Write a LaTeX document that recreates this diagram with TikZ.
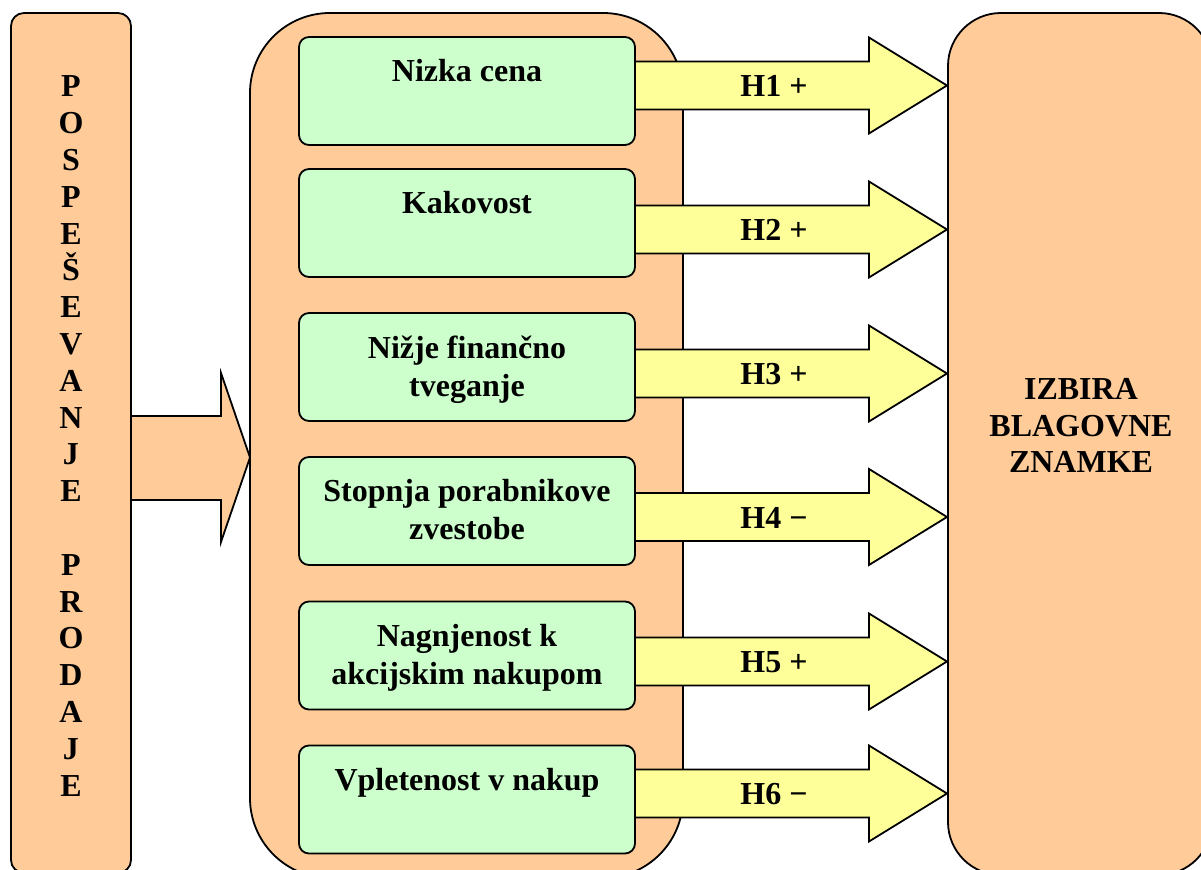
\documentclass[tikz,border=0pt]{standalone}
\usepackage{fontspec}
\setmainfont{Liberation Serif}
\usetikzlibrary{positioning}
\definecolor{peach}{HTML}{FFCC99}
\definecolor{mint}{HTML}{CCFFCC}
\definecolor{lemon}{HTML}{FFFF99}

\begin{document}
\begin{tikzpicture}[x=0.5pt,y=-0.5pt,line width=0.9pt,line join=miter,
  font=\fontsize{16}{18.4}\selectfont\bfseries,
  factor/.style={draw,fill=mint,rounded corners=5pt,minimum width=168pt,minimum height=54pt,inner sep=0pt},
  factortext/.style={align=center,inner sep=0pt,font=\fontsize{16}{19}\selectfont\bfseries},
  hyp/.style={inner sep=0pt},
  bigarrow/.style={draw,fill=lemon}]
\useasboundingbox (0,0) rectangle (1201,870);
\begin{scope}
\clip (0,0) rectangle (1201,870);
\fill[peach] (131,416) -- (221,416) -- (221,373) -- (250,457.5) -- (221,542) -- (221,500) -- (131,500) -- cycle;
\draw (131,416) -- (221,416) -- (221,373) -- (250,457.5) -- (221,542) -- (221,500) -- (131,500);
\draw[fill=peach,rounded corners=6.5pt] (11,13) rectangle (131,873);
\draw[fill=peach,rounded corners=40pt] (250,13) rectangle (683,878);
\draw[fill=peach,rounded corners=26.5pt] (948,13) rectangle (1212,875);
\end{scope}
\draw[bigarrow] (635,61.5) -- (869,61.5) -- (869,37.5) -- (947,85.5) -- (869,133.5) -- (869,109.5) -- (635,109.5) -- cycle;
\draw[bigarrow] (635,205.5) -- (869,205.5) -- (869,181.5) -- (947,229.5) -- (869,277.5) -- (869,253.5) -- (635,253.5) -- cycle;
\draw[bigarrow] (635,349.5) -- (869,349.5) -- (869,325.5) -- (947,373.5) -- (869,421.5) -- (869,397.5) -- (635,397.5) -- cycle;
\draw[bigarrow] (635,493) -- (869,493) -- (869,469) -- (947,517) -- (869,565) -- (869,541) -- (635,541) -- cycle;
\draw[bigarrow] (635,637.5) -- (869,637.5) -- (869,613.5) -- (947,661.5) -- (869,709.5) -- (869,685.5) -- (635,685.5) -- cycle;
\draw[bigarrow] (635,769.5) -- (869,769.5) -- (869,745.5) -- (947,793.5) -- (869,841.5) -- (869,817.5) -- (635,817.5) -- cycle;
\node[hyp] (h1) at (774,86) {H1 +};
\node[hyp] (h2) at (774,230) {H2 +};
\node[hyp] (h3) at (774,374) {H3 +};
\node[hyp] (h4) at (774,517.5) {H4 −};
\node[hyp] (h5) at (774,662) {H5 +};
\node[hyp] (h6) at (774,794) {H6 −};
\node[factor] (g1) at (467,91) {};
\node[factor] (g2) at (467,223) {};
\node[factor] (g3) at (467,367) {};
\node[factor] (g4) at (467,511) {};
\node[factor] (g5) at (467,655.5) {};
\node[factor] (g6) at (467,799.5) {};
\node[factortext,below=11.3pt of g1.north] (t1) {Nizka cena};
\node[factortext,below=11.3pt of g2.north] (t2) {Kakovost};
\node[factortext,below=11.3pt of g3.north] (t3) {Nižje finančno\\tveganje};
\node[factortext,below=11.3pt of g4.north] (t4) {Stopnja porabnikove\\zvestobe};
\node[factortext,below=11.3pt of g5.north] (t5) {Nagnjenost k\\akcijskim nakupom};
\node[factortext,below=11.3pt of g6.north] (t6) {Vpletenost v nakup};
\node[anchor=north,inner sep=0pt,align=center] (promo) at (71,75) {P\\O\\S\\P\\E\\Š\\E\\V\\A\\N\\J\\E\\\mbox{}\\P\\R\\O\\D\\A\\J\\E};
\node[inner sep=0pt,align=center] (choice) at (1081,425.5) {IZBIRA\\BLAGOVNE\\ZNAMKE};
\end{tikzpicture}
\end{document}
